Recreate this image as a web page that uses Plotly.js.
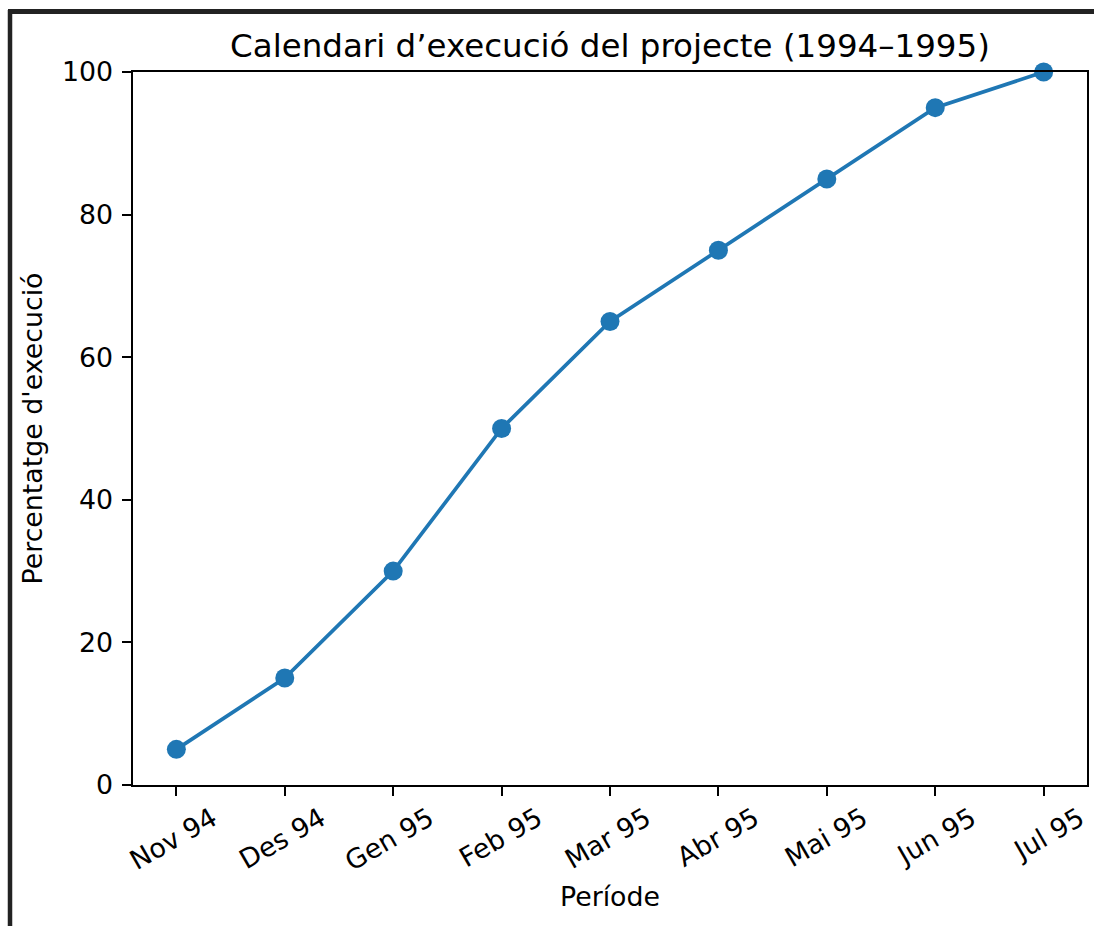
<!DOCTYPE html>
<html>
<head>
<meta charset="utf-8">
<script src="https://cdn.plot.ly/plotly-3.0.1.min.js"></script>
<style>html,body{margin:0;padding:0;background:#fff;}#chart{width:1094px;height:926px;}</style>
</head>
<body>
<div id="chart"></div>
<script>
const periods = ["Nov 94","Des 94","Gen 95","Feb 95","Mar 95","Abr 95","Mai 95","Jun 95","Jul 95"];
const execution = [5, 15, 30, 50, 65, 75, 85, 95, 100];
const yTicks = [0, 20, 40, 60, 80, 100];

const FONT = "DejaVu Sans, sans-serif";
const FS = 26.8, TFS = 32.5;
const L = 133, R = 1087, T = 72, B = 785;
const W = R - L, H = B - T;
const px = x => (x - L) / W;
const py = y => (B - y) / H;

const trace = {
  x: periods.map((_, i) => i),
  y: execution,
  mode: "lines+markers",
  line: {color: "#1f77b4", width: 3.7},
  marker: {color: "#1f77b4", size: 19},
  cliponaxis: false,
  hoverinfo: "skip"
};

const layout = {
  width: 1094, height: 926,
  margin: {l: L, r: 1094 - R, t: T, b: 926 - B},
  paper_bgcolor: "#fff", plot_bgcolor: "#fff",
  font: {family: FONT, size: FS, color: "#000"},
  showlegend: false,
  title: {text: "Calendari d’execució del projecte (1994–1995)", font: {family: FONT, size: TFS, color: "#000"},
          x: 0.5, xref: "paper", y: 1 - 46/926, yanchor: "middle"},
  xaxis: {
    range: [-0.4, 8.4],
    tickmode: "array",
    tickvals: periods.map((_, i) => i),
    ticktext: periods,
    tickangle: -30,
    ticks: "outside", ticklen: 8.6, tickwidth: 2, tickcolor: "#000",
    ticklabelshift: 36,
    ticklabelstandoff: -3,
    ticklabeloverflow: "allow",
    showline: true, linewidth: 2, linecolor: "#000", mirror: true,
    showgrid: false, zeroline: false,
    tickfont: {family: FONT, size: FS, color: "#000"},
    title: {text: "Període", font: {family: FONT, size: FS, color: "#000"}, standoff: 12}
  },
  yaxis: {
    range: [0, 100],
    tickmode: "array",
    tickvals: yTicks,
    ticks: "outside", ticklen: 8.6, tickwidth: 2, tickcolor: "#000",
    ticklabelstandoff: 4,
    showline: true, linewidth: 2, linecolor: "#000", mirror: true,
    showgrid: false, zeroline: false,
    tickfont: {family: FONT, size: FS, color: "#000"},
    title: {text: "Percentatge d'execució", font: {family: FONT, size: FS, color: "#000"}, standoff: 12}
  },
  shapes: [
    {type: "line", xref: "paper", yref: "paper", x0: px(10), x1: px(10), y0: py(10), y1: py(940),
     line: {color: "#222", width: 4.5}},
    {type: "line", xref: "paper", yref: "paper", x0: px(8), x1: px(1110), y0: py(11.5), y1: py(11.5),
     line: {color: "#222", width: 5}}
  ]
};

Plotly.newPlot("chart", [trace], layout, {displayModeBar: false, staticPlot: true});
</script>
</body>
</html>
